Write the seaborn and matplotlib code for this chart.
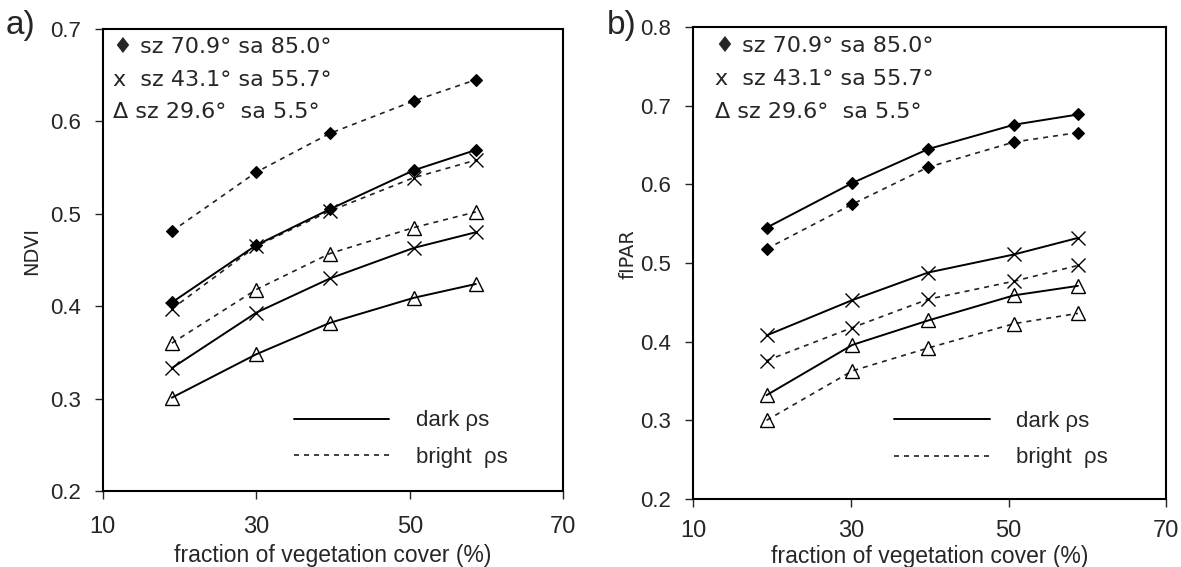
import numpy as np
import pandas as pd
import matplotlib
matplotlib.use("Agg")
import matplotlib.pyplot as plt
from matplotlib.lines import Line2D
import seaborn as sns

# Fraction of vegetation cover (%) at each sample plot
cover_a = [19.0, 30.0, 39.6, 50.5, 58.6]
cover_b = [19.3, 30.2, 39.8, 50.7, 58.8]

# Sun geometries (sz = sun zenith, sa = sun azimuth)
geometries = ["sz70.9", "sz43.1", "sz29.6"]
geometry_labels = ["\u2666 sz 70.9\u00b0 sa 85.0\u00b0",
                   "x  sz 43.1\u00b0 sa 55.7\u00b0",
                   "\u0394 sz 29.6\u00b0  sa 5.5\u00b0"]

# NDVI for dark and bright soil backgrounds
ndvi_dark = {"sz70.9": [0.404, 0.466, 0.505, 0.547, 0.569],
             "sz43.1": [0.333, 0.393, 0.430, 0.463, 0.480],
             "sz29.6": [0.301, 0.348, 0.382, 0.409, 0.424]}
ndvi_bright = {"sz70.9": [0.481, 0.545, 0.587, 0.622, 0.645],
               "sz43.1": [0.397, 0.465, 0.503, 0.539, 0.558],
               "sz29.6": [0.360, 0.418, 0.457, 0.485, 0.502]}

# fIPAR for dark and bright soil backgrounds
fipar_dark = {"sz70.9": [0.545, 0.602, 0.645, 0.676, 0.689],
              "sz43.1": [0.408, 0.453, 0.488, 0.511, 0.532],
              "sz29.6": [0.332, 0.396, 0.427, 0.459, 0.471]}
fipar_bright = {"sz70.9": [0.518, 0.575, 0.622, 0.654, 0.666],
                "sz43.1": [0.376, 0.418, 0.454, 0.477, 0.497],
                "sz29.6": [0.300, 0.363, 0.392, 0.423, 0.436]}


def long_table(cover, dark, bright):
    rows = []
    for soil, table in (("dark", dark), ("bright", bright)):
        for g in geometries:
            for x, y in zip(cover, table[g]):
                rows.append({"cover": x, "value": y, "soil": soil, "geometry": g})
    return pd.DataFrame(rows)


df_a = long_table(cover_a, ndvi_dark, ndvi_bright)
df_b = long_table(cover_b, fipar_dark, fipar_bright)

sns.set_style("ticks")
plt.rcParams["font.family"] = ["Liberation Sans", "DejaVu Sans"]
wide_font = ["DejaVu Sans"]

marker_kw = {
    "sz70.9": dict(marker="D", markersize=6.5, markerfacecolor="black",
                   markeredgecolor="black", markeredgewidth=0.8),
    "sz43.1": dict(marker="x", markersize=9.5, markeredgecolor="black",
                   markeredgewidth=1.0),
    "sz29.6": dict(marker="^", markersize=9.5, markerfacecolor="none",
                   markeredgecolor="black", markeredgewidth=1.0),
}
line_kw = {
    "dark": dict(linestyle="-", linewidth=1.4, color="black"),
    "bright": dict(linestyle=(0, (3, 3)), linewidth=1.2, color="#222222"),
}

fig = plt.figure(figsize=(11.81, 5.67), dpi=100)
ax_a = fig.add_axes([0.087, 0.134, 0.390, 0.815])
ax_b = fig.add_axes([0.587, 0.120, 0.4005, 0.832])


def draw_panel(ax, df, ylim, yticks, ylabel, ylabel_x, tag, tag_x,
               text_x, legend_anchor, xlabel_pad, xtick_pad):
    for soil in ("bright", "dark"):
        for g in geometries:
            sub = df[(df.soil == soil) & (df.geometry == g)]
            sns.lineplot(data=sub, x="cover", y="value", ax=ax,
                         estimator=None, sort=True, legend=False,
                         **line_kw[soil], **marker_kw[g])
    ax.set_xlim(10, 70)
    ax.set_ylim(*ylim)
    ax.set_xticks([10, 30, 50, 70])
    ax.set_yticks(yticks)
    ax.set_yticklabels([f"{t:.1f}" for t in yticks])
    ax.tick_params(axis="x", labelsize=17, length=6, width=1, direction="out",
                   pad=xtick_pad)
    ax.tick_params(axis="y", labelsize=16, length=6, width=1, direction="out", pad=10)
    for sp in ax.spines.values():
        sp.set_visible(True)
        sp.set_linewidth(1.5)
        sp.set_color("black")
    ax.set_xlabel("fraction of vegetation cover (%)", fontsize=16.5,
                  labelpad=xlabel_pad)
    ax.set_ylabel(ylabel, fontsize=14, family=wide_font)
    ax.yaxis.set_label_coords(ylabel_x, 0.52)

    for i, lab in enumerate(geometry_labels):
        ax.text(text_x, 0.96 - i * 0.07, lab, transform=ax.transAxes,
                fontsize=16, family=wide_font, va="center", ha="left")

    handles = [Line2D([], [], **line_kw["dark"]),
               Line2D([], [], **line_kw["bright"])]
    ax.legend(handles, ["dark \u03c1s", "bright  \u03c1s"], loc="lower left",
              bbox_to_anchor=legend_anchor, frameon=False, fontsize=16,
              handlelength=4.3, handletextpad=1.2, borderpad=0,
              labelspacing=0.7, borderaxespad=0)

    fig.text(tag_x, 0.982, tag, fontsize=24, va="top", ha="left")


draw_panel(ax_a, df_a, (0.2, 0.7), [0.2, 0.3, 0.4, 0.5, 0.6, 0.7], "NDVI", -0.134,
           "a)", 0.005, 0.022, (0.415, 0.05), 4, 12)
draw_panel(ax_b, df_b, (0.2, 0.8), [0.2, 0.3, 0.4, 0.5, 0.6, 0.7, 0.8], "fIPAR",
           -0.118, "b)", 0.514, 0.045, (0.425, 0.065), 2, 9)

fig.savefig("out.png", dpi=100, facecolor="white")
